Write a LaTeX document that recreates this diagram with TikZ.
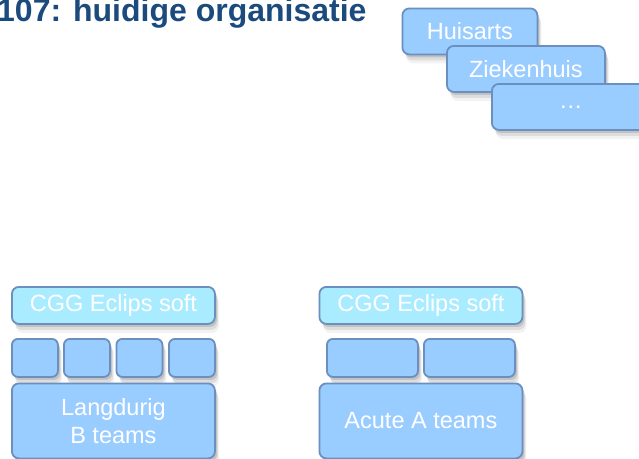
\documentclass[tikz,border=0pt]{standalone}
\usepackage{fontspec}
\setmainfont{Liberation Sans}
\usetikzlibrary{shadows}
\definecolor{boxfill}{HTML}{99CCFF}
\definecolor{cggfill}{HTML}{A9ECFF}
\definecolor{boxline}{HTML}{6B8FBE}
\definecolor{titleblue}{RGB}{27,74,125}
\tikzset{
  softshadow/.style={
    drop shadow={shadow xshift=2pt,shadow yshift=-3pt,opacity=0.18,fill=black!70},
    drop shadow={shadow xshift=3pt,shadow yshift=-6pt,opacity=0.12,fill=black!70},
    drop shadow={shadow xshift=4pt,shadow yshift=-9pt,opacity=0.07,fill=black!70}},
  box/.style={draw=boxline,line width=1.8pt,fill=boxfill,rounded corners=7pt,
    anchor=north west,inner sep=0pt,text=white,font=\fontsize{23.5}{28}\selectfont,
    align=center,softshadow},
  cgg/.style={box,fill=cggfill},
  small/.style={box,rounded corners=6pt,minimum height=38pt},
}
\begin{document}
\begin{tikzpicture}[x=1pt,y=-1pt]
\useasboundingbox (0,0) rectangle (639,458);
\fill[white] (0,0) rectangle (639,458);
\node[anchor=base west,inner sep=0pt,text=titleblue,font=\fontsize{32}{36}\selectfont\bfseries] (title) at (-3,21) {107: huidige organisatie};
% top right stack
\node[box,minimum width=135pt,minimum height=46pt] (huis) at (401.5,7.5) {Huisarts};
\node[box,minimum width=158pt,minimum height=46pt] (zkh) at (446,45) {Ziekenhuis};
\node[box,minimum width=158pt,minimum height=46pt] (dots) at (491,83) {…};
% bottom left
\node[cgg,minimum width=203pt,minimum height=37pt] (cggL) at (11,286) {CGG Eclips soft};
\node[small,minimum width=46pt] (l1) at (11,338) {};
\node[small,minimum width=46pt] (l2) at (63,338) {};
\node[small,minimum width=46pt] (l3) at (115.5,338) {};
\node[small,minimum width=46pt] (l4) at (168,338) {};
\node[box,minimum width=203pt,minimum height=75pt] (lang) at (11,382.5) {Langdurig\\B teams};
% bottom right
\node[cgg,minimum width=203pt,minimum height=37pt] (cggR) at (318.5,286) {CGG Eclips soft};
\node[small,minimum width=91pt] (r1) at (326,338) {};
\node[small,minimum width=91pt] (r2) at (423,338) {};
\node[box,minimum width=203pt,minimum height=75pt] (acute) at (318.5,382.5) {Acute A teams};
\end{tikzpicture}
\end{document}
